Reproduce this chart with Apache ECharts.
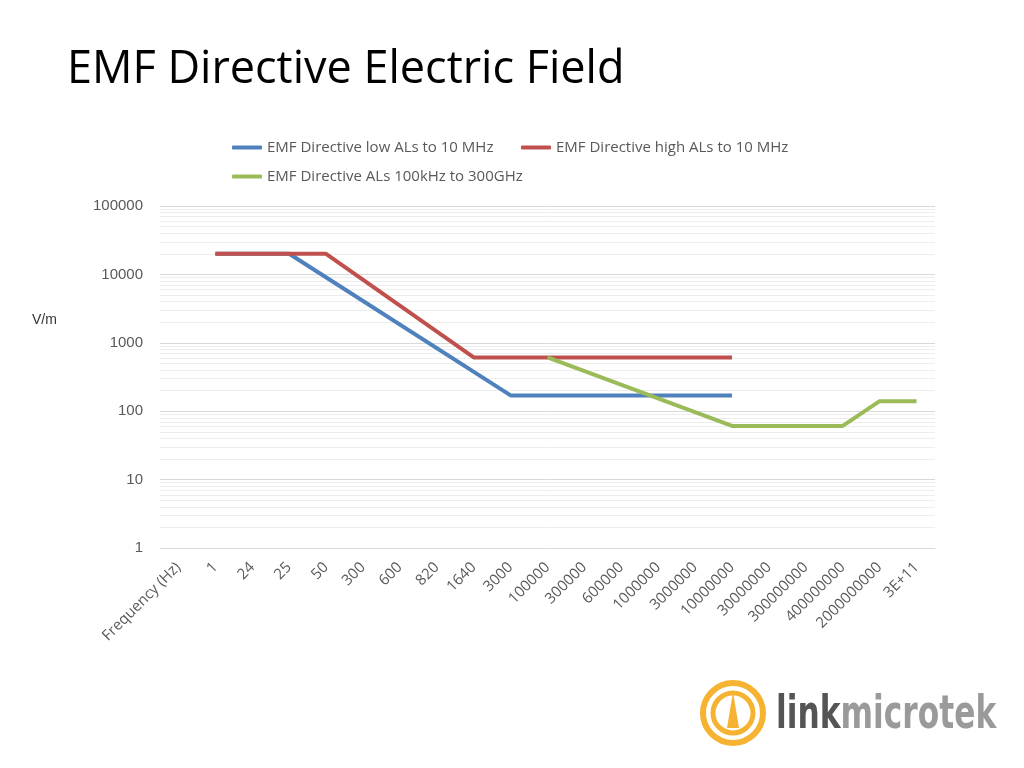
<!DOCTYPE html>
<html><head><meta charset="utf-8">
<script src="https://cdn.jsdelivr.net/npm/echarts@6/dist/echarts.min.js"></script>
<style>html,body{margin:0;padding:0;background:#fff}#c{width:1024px;height:768px}</style>
</head><body><div id="c"></div>
<script>
const categories = ['Frequency (Hz)','1','24','25','50','300','600','820','1640','3000','100000','300000','600000','1000000','3000000','10000000','30000000','300000000','400000000','2000000000','3E+11'];
const lowALs  = [null,20000,20000,20000,null,null,null,null,null,170,170,170,170,170,170,170,null,null,null,null,null];
const highALs = [null,20000,20000,20000,20000,null,null,null,610,610,610,610,610,610,610,610,null,null,null,null,null];
const hfALs   = [null,null,null,null,null,null,null,null,null,null,610,null,null,null,null,61,61,61,61,140,140];
const seriesNames = ['EMF Directive low ALs to 10 MHz','EMF Directive high ALs to 10 MHz','EMF Directive ALs 100kHz to 300GHz'];
const colors = ['#4F81BD','#C0504D','#9BBB59'];

// minor log grid lines (2..9 x 10^k)
const minorGrid = [];
for (let k = 0; k < 5; k++) for (let m = 2; m <= 9; m++) minorGrid.push({yAxis: m * Math.pow(10, k)});

const chart = echarts.init(document.getElementById('c'), null, {renderer: 'canvas'});
const font = "'Open Sans', 'Noto Sans', sans-serif";
const legendBase = {orient:'horizontal', itemWidth:30, itemHeight:4, icon:'roundRect', textStyle:{color:'#595959', fontSize:15, fontFamily:font}, selectedMode:false};
chart.setOption({
  animation: false,
  textStyle: {fontFamily: font},
  title: {text: 'EMF Directive Electric Field', left: 62, top: 43, textStyle: {fontSize: 45, fontWeight: 'normal', color: '#000', fontFamily: font}},
  legend: [
    Object.assign({}, legendBase, {left: 227, top: 135, data: [seriesNames[0]]}),
    Object.assign({}, legendBase, {left: 516, top: 135, data: [seriesNames[1]]}),
    Object.assign({}, legendBase, {left: 227, top: 164, data: [seriesNames[2]]})
  ],
  grid: {left: 160, right: 89, top: 206, bottom: 220, containLabel: false},
  xAxis: {
    type: 'category', data: categories, boundaryGap: true,
    axisLine: {lineStyle: {color: '#D9D9D9'}}, axisTick: {show: false},
    axisLabel: {rotate: 45, color: '#595959', fontSize: 15, interval: 0, margin: 17, fontFamily: font}
  },
  yAxis: {
    type: 'log', logBase: 10, min: 1, max: 100000,
    axisLine: {show: false}, axisTick: {show: false},
    axisLabel: {color: '#595959', fontSize: 15, margin: 17, fontFamily: "'Liberation Sans', Arial, sans-serif", formatter: v => String(v)},
    splitLine: {lineStyle: {color: '#D9D9D9', width: 1}}
  },
  graphic: [
    {type:'text', left: 32, top: 313, style:{text:'V/m', fontSize:14, fill:'#333', fontFamily:"'Liberation Sans', Arial, sans-serif"}},
    {type:'circle', shape:{cx:733, cy:713, r:30}, style:{fill:'none', stroke:'#F6B331', lineWidth:6}},
    {type:'circle', shape:{cx:733, cy:713, r:20}, style:{fill:'none', stroke:'#F6B331', lineWidth:5}},
    {type:'polygon', shape:{points:[[733,692],[727,728],[739,728]]}, style:{fill:'#F6B331'}},
    {type:'text', x: 776, y: 693, scaleX: 0.68, style:{x:0, y:0, rich:{a:{fontSize:46, fontWeight:'bold', fill:'#555555', fontFamily:"'DejaVu Sans', sans-serif"}, b:{fontSize:46, fontWeight:'bold', fill:'#9A9A9A', fontFamily:"'DejaVu Sans', sans-serif"}}, text:'{a|link}{b|microtek}'}}
  ],
  series: [
    {name: seriesNames[0], type: 'line', data: lowALs, connectNulls: true, showSymbol: false, symbol:'none', lineStyle: {width: 4, color: colors[0]}, itemStyle:{color: colors[0]}, z: 3,
      markLine: {silent: true, symbol: 'none', label: {show: false}, lineStyle: {color: '#EDEDED', width: 1, type: 'solid'}, data: minorGrid, z: 1}},
    {name: seriesNames[1], type: 'line', data: highALs, connectNulls: true, showSymbol: false, symbol:'none', lineStyle: {width: 4, color: colors[1]}, itemStyle:{color: colors[1]}, z: 4},
    {name: seriesNames[2], type: 'line', data: hfALs, connectNulls: true, showSymbol: false, symbol:'none', lineStyle: {width: 4, color: colors[2]}, itemStyle:{color: colors[2]}, z: 5}
  ]
});
</script></body></html>
